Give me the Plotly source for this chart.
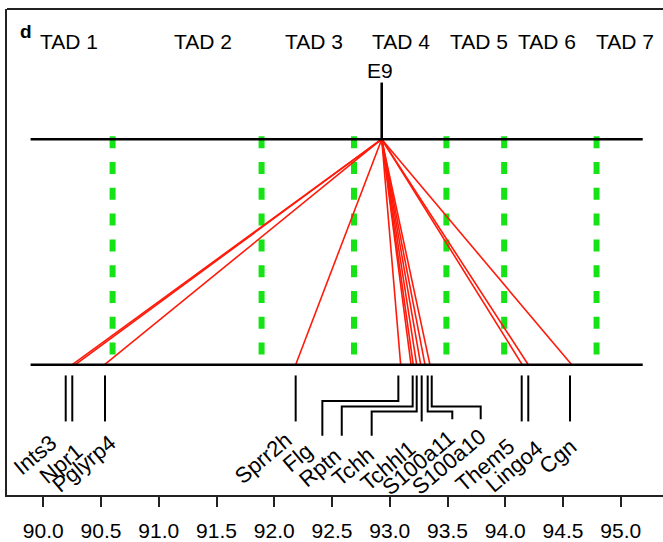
import plotly.graph_objects as go

# ---------------- data (Mb positions) ----------------
TAD_NAMES = ["TAD 1", "TAD 2", "TAD 3", "TAD 4", "TAD 5", "TAD 6", "TAD 7"]
TAD_LABEL_POS = [90.22, 91.38, 92.34, 93.10, 93.77, 94.36, 95.04]
TAD_BOUNDARIES = [90.60, 91.89, 92.69, 93.49, 93.99, 94.79]

ENHANCER_NAME = "E9"
ENHANCER_POS = 92.93

GENES = ["Ints3", "Npr1", "Pglyrp4", "Sprr2h", "Flg", "Rptn", "Tchh",
         "Tchhl1", "S100a11", "S100a10", "Them5", "Lingo4", "Cgn"]
GENE_POS = [90.194, 90.251, 90.534, 92.185, 93.074, 93.198, 93.233,
            93.276, 93.328, 93.363, 94.142, 94.199, 94.560]
GENE_LABEL_POS = [90.194, 90.251, 90.534, 92.185, 92.416, 92.584, 92.843,
                  93.276, 93.541, 93.787, 94.142, 94.199, 94.560]

INTERACTION_TARGETS = [90.248, 90.274, 90.528, 92.185, 93.094, 93.184, 93.203,
                       93.233, 93.268, 93.305, 93.348, 94.147, 94.199, 94.575]

TRACK_START, TRACK_END = 89.89, 95.19

TICK_VALUES = [90.0, 90.5, 91.0, 91.5, 92.0, 92.5, 93.0, 93.5, 94.0, 94.5, 95.0]
TICK_LABELS = ["90.0", "90.5", "91.0", "91.5", "92.0", "92.5", "93.0",
               "93.5", "94.0", "94.5", "95.0"]

# ---------------- layout constants (screen rows, px from top) ----------------
W, H = 663, 542
PLOT_TOP, PLOT_BOTTOM = 9, 498
PLOT_LEFT = 7
X0_PX, PX_PER_MB = 43.3, 115.5
XMIN = 90 - (X0_PX - PLOT_LEFT) / PX_PER_MB
XMAX = 90 + (W - X0_PX) / PX_PER_MB

TOP_TRACK_Y = 140
BOT_TRACK_Y = 367
ENH_STEM_TOP = 83
ENH_LABEL_Y = 71
TAD_LABEL_Y = 41.5
STEM_TOP = 377.7
STEM_BOTTOM = 424
DASH_START, DASH_END = 137, 357

# per-gene stem routing (elbow row, final bottom row) and label nudges (px)
STEM_ROUTE = {
    "Flg": (403.3, 438.3), "Rptn": (409, 438.3), "Tchh": (414, 438.3),
    "S100a11": (414, 421.7), "S100a10": (409, 421.7),
}
LABEL_SHIFT = {
    "Ints3": (-1, 5), "Npr1": (18, 14), "Pglyrp4": (19, 6), "Sprr2h": (3, 3),
    "Flg": (-2, -1), "Rptn": (7, 5), "Tchh": (10, 4), "Tchhl1": (2, 11),
    "S100a11": (10, 3), "S100a10": (13, 2), "Them5": (0, 10),
    "Lingo4": (22, 11), "Cgn": (14, 10),
}

FONT = "Arial, Liberation Sans, Helvetica, sans-serif"
GREEN = "#16e316"
RED = "#ff1a0a"

fig = go.Figure()

# TAD boundaries (green dashed)
gx, gy = [], []
for b in TAD_BOUNDARIES:
    gx += [b, b, None]
    gy += [DASH_START, DASH_END, None]
fig.add_trace(go.Scatter(x=gx, y=gy, mode="lines",
                         line=dict(color=GREEN, width=6, dash="12px,13.8px"),
                         hoverinfo="skip", showlegend=False))

# interactions (red)
rx, ry = [], []
for t in INTERACTION_TARGETS:
    rx += [ENHANCER_POS, t, None]
    ry += [TOP_TRACK_Y, BOT_TRACK_Y, None]
fig.add_trace(go.Scatter(x=rx, y=ry, mode="lines",
                         line=dict(color=RED, width=1.6),
                         hoverinfo="skip", showlegend=False))

# tracks
fig.add_trace(go.Scatter(x=[TRACK_START, TRACK_END, None, TRACK_START, TRACK_END],
                         y=[TOP_TRACK_Y, TOP_TRACK_Y, None, BOT_TRACK_Y, BOT_TRACK_Y],
                         mode="lines", line=dict(color="black", width=2.5),
                         hoverinfo="skip", showlegend=False))

# enhancer stem
fig.add_trace(go.Scatter(x=[ENHANCER_POS, ENHANCER_POS], y=[ENH_STEM_TOP, TOP_TRACK_Y],
                         mode="lines", line=dict(color="black", width=2.6),
                         hoverinfo="skip", showlegend=False))

# gene stems
sx, sy = [], []
label_bottom = {}
for g, p, lp in zip(GENES, GENE_POS, GENE_LABEL_POS):
    if g in STEM_ROUTE:
        elbow, bottom = STEM_ROUTE[g]
        sx += [p, p, lp, lp, None]
        sy += [STEM_TOP, elbow, elbow, bottom, None]
    else:
        bottom = STEM_BOTTOM
        sx += [p, p, None]
        sy += [STEM_TOP, bottom, None]
    label_bottom[g] = bottom
fig.add_trace(go.Scatter(x=sx, y=sy, mode="lines",
                         line=dict(color="black", width=2),
                         hoverinfo="skip", showlegend=False))

annotations = []
for g, lp in zip(GENES, GENE_LABEL_POS):
    dx, dy = LABEL_SHIFT[g]
    annotations.append(dict(x=lp, y=label_bottom[g], xref="x", yref="y",
                            text=g, showarrow=False, textangle=-40,
                            xanchor="right", yanchor="top",
                            xshift=dx, yshift=-dy,
                            font=dict(family=FONT, size=22, color="black")))

for name, pos in zip(TAD_NAMES, TAD_LABEL_POS):
    annotations.append(dict(x=pos, y=TAD_LABEL_Y, xref="x", yref="y", text=name,
                            showarrow=False, xanchor="center", yanchor="middle",
                            font=dict(family=FONT, size=21, color="black")))

annotations.append(dict(x=ENHANCER_POS, y=ENH_LABEL_Y, xref="x", yref="y",
                        text=ENHANCER_NAME, showarrow=False, xshift=-2,
                        xanchor="center", yanchor="middle",
                        font=dict(family=FONT, size=21, color="black")))

annotations.append(dict(x=19 / W, y=1 - 25 / H, xref="paper", yref="paper",
                        text="<b>d</b>", showarrow=False,
                        xanchor="center", yanchor="middle",
                        font=dict(family=FONT, size=19, color="black")))

fig.update_layout(
    width=W, height=H,
    margin=dict(l=PLOT_LEFT, r=0, t=PLOT_TOP, b=H - PLOT_BOTTOM, pad=0),
    paper_bgcolor="white", plot_bgcolor="white",
    annotations=annotations,
    shapes=[dict(type="line", xref="paper", yref="paper", x0=0, x1=1, y0=1, y1=1,
                 line=dict(color="#222", width=1.8))],
    xaxis=dict(range=[XMIN, XMAX], tickvals=TICK_VALUES, ticktext=TICK_LABELS,
               showgrid=False, zeroline=False, showline=True, linecolor="#222",
               linewidth=1.8, ticks="outside", ticklen=10, tickwidth=1.5,
               tickcolor="#222", ticklabelstandoff=6,
               tickfont=dict(family=FONT, size=21, color="black"), fixedrange=True),
    yaxis=dict(range=[PLOT_BOTTOM, PLOT_TOP], showgrid=False, zeroline=False,
               showticklabels=False, showline=True, linecolor="#222", linewidth=1.8,
               ticks="", fixedrange=True),
)

fig.write_html(
    "out.html",
    config={"displayModeBar": False},
    post_script="document.body.style.margin='0';document.body.style.overflow='hidden';",
)
